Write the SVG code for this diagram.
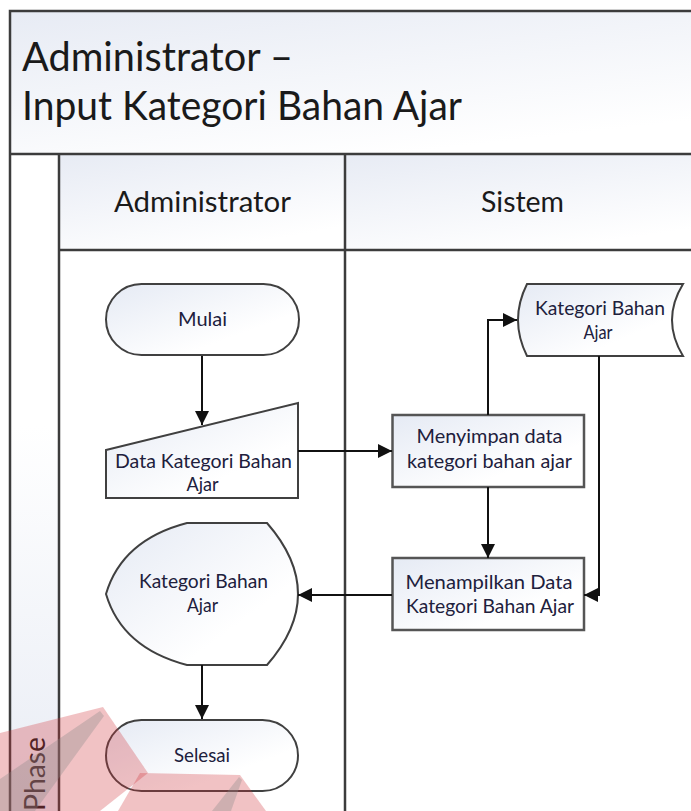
<svg xmlns="http://www.w3.org/2000/svg" width="691" height="811" viewBox="0 0 691 811">
<defs>
<linearGradient id="gHead" x1="0" y1="0" x2="0.55" y2="1">
<stop offset="0" stop-color="#e7ebf4"/>
<stop offset="1" stop-color="#ffffff"/>
</linearGradient>
<linearGradient id="gPhase" x1="0" y1="0" x2="0" y2="1">
<stop offset="0" stop-color="#ffffff"/>
<stop offset="0.4" stop-color="#ffffff"/>
<stop offset="1" stop-color="#e7ebf4"/>
</linearGradient>
<linearGradient id="gShape" x1="0" y1="0" x2="1" y2="1">
<stop offset="0" stop-color="#e5eaf4"/>
<stop offset="0.7" stop-color="#ffffff"/>
</linearGradient>
<marker id="arr" viewBox="0 0 14 14" refX="14" refY="7" markerWidth="14" markerHeight="14" markerUnits="userSpaceOnUse" orient="auto">
<path d="M0,0 L14,7 L0,14 z" fill="#111"/>
</marker>
<style>
.frame{fill:none;stroke:#3c3c3c;stroke-width:2.5}
.ln{stroke:#3c3c3c;stroke-width:2.5}
.shp{fill:url(#gShape);stroke:#404040;stroke-width:2}
.box{fill:url(#gShape);stroke:#555;stroke-width:2.5}
.t{font-family:Lato,"Liberation Sans",sans-serif;font-size:20px;fill:#20203c;text-anchor:middle}
.hd{font-family:Lato,"Liberation Sans",sans-serif;font-size:29px;fill:#1a1a1a;text-anchor:middle}
.ttl{font-family:Lato,"Liberation Sans",sans-serif;font-size:40px;fill:#1a1a1a}
.con{fill:none;stroke:#111;stroke-width:2;marker-end:url(#arr)}
.wr{fill:#d2343c;opacity:0.3}
.wg{fill:#8a8a8a;opacity:0.33}
</style>
</defs>

<g id="pool">
<rect x="10" y="11" width="700" height="143" fill="url(#gHead)"/>
<rect x="10" y="154" width="49" height="680" fill="url(#gPhase)"/>
<rect x="59" y="154" width="286" height="96" fill="url(#gHead)"/>
<rect x="345" y="154" width="365" height="96" fill="url(#gHead)"/>
<rect x="10" y="11" width="700" height="830" class="frame"/>
<line x1="10" y1="154" x2="710" y2="154" class="ln"/>
<line x1="59" y1="154" x2="59" y2="841" class="ln"/>
<line x1="59" y1="250" x2="710" y2="250" class="ln"/>
<line x1="345" y1="154" x2="345" y2="841" class="ln"/>
<text class="ttl" x="22" y="71" textLength="271" lengthAdjust="spacingAndGlyphs">Administrator –</text>
<text class="ttl" x="22" y="120" textLength="440" lengthAdjust="spacingAndGlyphs">Input Kategori Bahan Ajar</text>
<text class="hd" x="202.5" y="212" textLength="177" lengthAdjust="spacingAndGlyphs">Administrator</text>
<text class="hd" x="522.5" y="212" textLength="83" lengthAdjust="spacingAndGlyphs">Sistem</text>
<text class="hd" transform="translate(45,774) rotate(-90)" x="0" y="0" textLength="74" lengthAdjust="spacingAndGlyphs">Phase</text>
</g>

<g id="mulai">
<rect x="106" y="284" width="193" height="71" rx="35.5" ry="35.5" class="shp"/>
<text class="t" x="202.5" y="326" textLength="49" lengthAdjust="spacingAndGlyphs">Mulai</text>
</g>

<g id="input-data">
<polygon points="106,450 298,403 298,498 106,498" class="shp"/>
<text class="t" x="203.5" y="468" textLength="177" lengthAdjust="spacingAndGlyphs">Data Kategori Bahan</text>
<text class="t" x="202.5" y="491" textLength="32" lengthAdjust="spacingAndGlyphs">Ajar</text>
</g>

<g id="menyimpan">
<rect x="392.5" y="415" width="191.5" height="72" class="box"/>
<text class="t" x="489.5" y="443" textLength="146" lengthAdjust="spacingAndGlyphs">Menyimpan data</text>
<text class="t" x="489.5" y="468" textLength="165" lengthAdjust="spacingAndGlyphs">kategori bahan ajar</text>
</g>

<g id="stored-data">
<path d="M527,284 L683,284 Q661,320 683,356 L527,356 Q509,320 527,284 Z" class="shp"/>
<text class="t" x="600" y="315" textLength="130" lengthAdjust="spacingAndGlyphs">Kategori Bahan</text>
<text class="t" x="598" y="339" textLength="29" lengthAdjust="spacingAndGlyphs">Ajar</text>
</g>

<g id="menampilkan">
<rect x="392.5" y="558" width="191.5" height="72" class="box"/>
<text class="t" x="489" y="589" textLength="167" lengthAdjust="spacingAndGlyphs">Menampilkan Data</text>
<text class="t" x="490" y="613" textLength="168" lengthAdjust="spacingAndGlyphs">Kategori Bahan Ajar</text>
</g>

<g id="display">
<path d="M187,523 L267,523 Q329,594 267,665 L187,665 Q122,648 106,594 Q122,540 187,523 Z" class="shp"/>
<text class="t" x="203.5" y="588" textLength="129" lengthAdjust="spacingAndGlyphs">Kategori Bahan</text>
<text class="t" x="202.5" y="612" textLength="31" lengthAdjust="spacingAndGlyphs">Ajar</text>
</g>

<g id="selesai">
<rect x="106" y="720" width="192" height="71" rx="35.5" ry="35.5" class="shp"/>
<text class="t" x="202" y="762" textLength="56" lengthAdjust="spacingAndGlyphs">Selesai</text>
</g>

<g id="connectors">
<path d="M202,356 L202,425" class="con"/>
<path d="M298,451 L392,451" class="con"/>
<path d="M488,415 L488,320 L517,320" class="con"/>
<path d="M488,487 L488,558" class="con"/>
<path d="M599,356 L599,595 L584,595" class="con"/>
<path d="M392,595 L298,595" class="con"/>
<path d="M202,665 L202,719" class="con"/>
</g>

<g id="watermark">
<polygon points="0,733 103,707 148,773 100,811 0,811" class="wr"/>
<polygon points="100,711 0,779 0,811 35,811 104,716" class="wg"/>
<polygon points="140,773 240,775 266,811 118,811" class="wr"/>
<polygon points="239,777 212,811 231,811 242,780" class="wg"/>
</g>
</svg>
